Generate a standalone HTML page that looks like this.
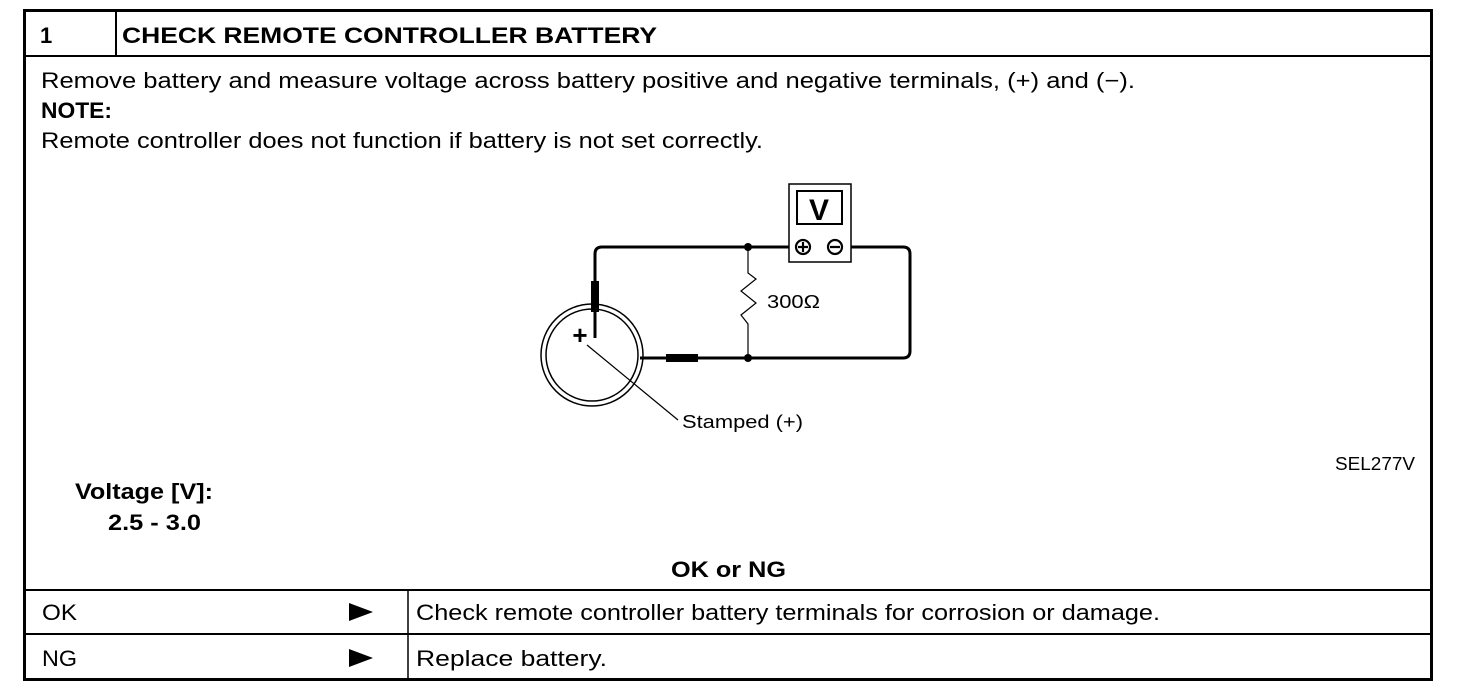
<!DOCTYPE html>
<html><head><style>
body{margin:0;background:#fff;}
svg{display:block;}
text{font-family:"Liberation Sans",Arial,sans-serif;fill:#000;}
</style></head><body>
<svg width="1472" height="690" viewBox="0 0 1472 690" xmlns="http://www.w3.org/2000/svg">
<rect x="24.5" y="10.5" width="1407" height="669" fill="none" stroke="#000" stroke-width="3"/>
<line x1="24" y1="56" x2="1432" y2="56" stroke="#000" stroke-width="2"/>
<line x1="116" y1="10" x2="116" y2="56" stroke="#000" stroke-width="2"/>
<line x1="24" y1="590" x2="1432" y2="590" stroke="#000" stroke-width="2"/>
<line x1="24" y1="634" x2="1432" y2="634" stroke="#000" stroke-width="2"/>
<line x1="408" y1="590" x2="408" y2="680" stroke="#000" stroke-width="1.5"/>

<text x="40" y="43" font-size="22" font-weight="bold">1</text>
<text x="122" y="43" font-size="22" font-weight="bold" textLength="535" lengthAdjust="spacingAndGlyphs">CHECK REMOTE CONTROLLER BATTERY</text>
<text x="41" y="88" font-size="22" textLength="1094" lengthAdjust="spacingAndGlyphs">Remove battery and measure voltage across battery  positive and negative terminals, (+) and  (−).</text>
<text x="41" y="118" font-size="22" font-weight="bold" textLength="71" lengthAdjust="spacingAndGlyphs">NOTE:</text>
<text x="41" y="148" font-size="22" textLength="722" lengthAdjust="spacingAndGlyphs">Remote controller does not function if battery is not set correctly.</text>

<text x="75" y="499" font-size="22" font-weight="bold" textLength="138" lengthAdjust="spacingAndGlyphs">Voltage [V]:</text>
<text x="108" y="530" font-size="22" font-weight="bold" textLength="93" lengthAdjust="spacingAndGlyphs">2.5 - 3.0</text>
<text x="671" y="577" font-size="22" font-weight="bold" textLength="115" lengthAdjust="spacingAndGlyphs">OK or NG</text>
<text x="1335" y="470" font-size="18" textLength="80" lengthAdjust="spacingAndGlyphs">SEL277V</text>

<text x="42" y="620" font-size="22" textLength="35" lengthAdjust="spacingAndGlyphs">OK</text>
<text x="42" y="666" font-size="22" textLength="35" lengthAdjust="spacingAndGlyphs">NG</text>
<polygon points="349,603 373,612 349,621" fill="#000"/>
<polygon points="349,649 373,658 349,667" fill="#000"/>
<text x="416" y="620" font-size="22" textLength="744" lengthAdjust="spacingAndGlyphs">Check remote controller battery terminals for corrosion or damage.</text>
<text x="416" y="666" font-size="22" textLength="191" lengthAdjust="spacingAndGlyphs">Replace battery.</text>

<g fill="none" stroke="#000">
<path d="M595,318 L595,254 Q595,247 602,247 L903,247 Q910,247 910,254 L910,351 Q910,358 903,358 L640,358" stroke-width="3"/>
<rect x="591" y="281" width="8" height="31" fill="#000" stroke="none"/>
<rect x="666" y="354" width="32" height="8" fill="#000" stroke="none"/>
<circle cx="592" cy="355" r="51" stroke-width="1.5"/>
<circle cx="592" cy="355" r="46" stroke-width="1.5"/>
<path d="M748,247 L748,273 L756,279 L741,291 L756,303 L741,315 L748,324 L748,358" stroke-width="1.2"/>
<rect x="789" y="184" width="62" height="78" fill="#fff" stroke-width="1.5"/>
<rect x="797" y="191" width="45" height="33" stroke-width="2"/>
<circle cx="803" cy="247" r="7" fill="#fff" stroke-width="2.2"/>
<circle cx="835" cy="247" r="7" fill="#fff" stroke-width="2.2"/>
<path d="M798,247 H808 M803,242 V252 M830,247 H840" stroke-width="2.2"/>
<line x1="587" y1="345" x2="678" y2="420" stroke-width="1.2"/>
</g>
<circle cx="748" cy="247" r="4" fill="#000"/>
<circle cx="748" cy="358" r="4" fill="#000"/>
<line x1="595" y1="310" x2="595" y2="338" stroke="#000" stroke-width="3"/>
<text x="819" y="220" font-size="30" font-weight="bold" text-anchor="middle">V</text>
<text x="580" y="344" font-size="26" font-weight="bold" text-anchor="middle">+</text>
<text x="767" y="308" font-size="18" textLength="53" lengthAdjust="spacingAndGlyphs">300Ω</text>
<text x="682" y="428" font-size="18" textLength="121" lengthAdjust="spacingAndGlyphs">Stamped  (+)</text>
</svg>
</body></html>
